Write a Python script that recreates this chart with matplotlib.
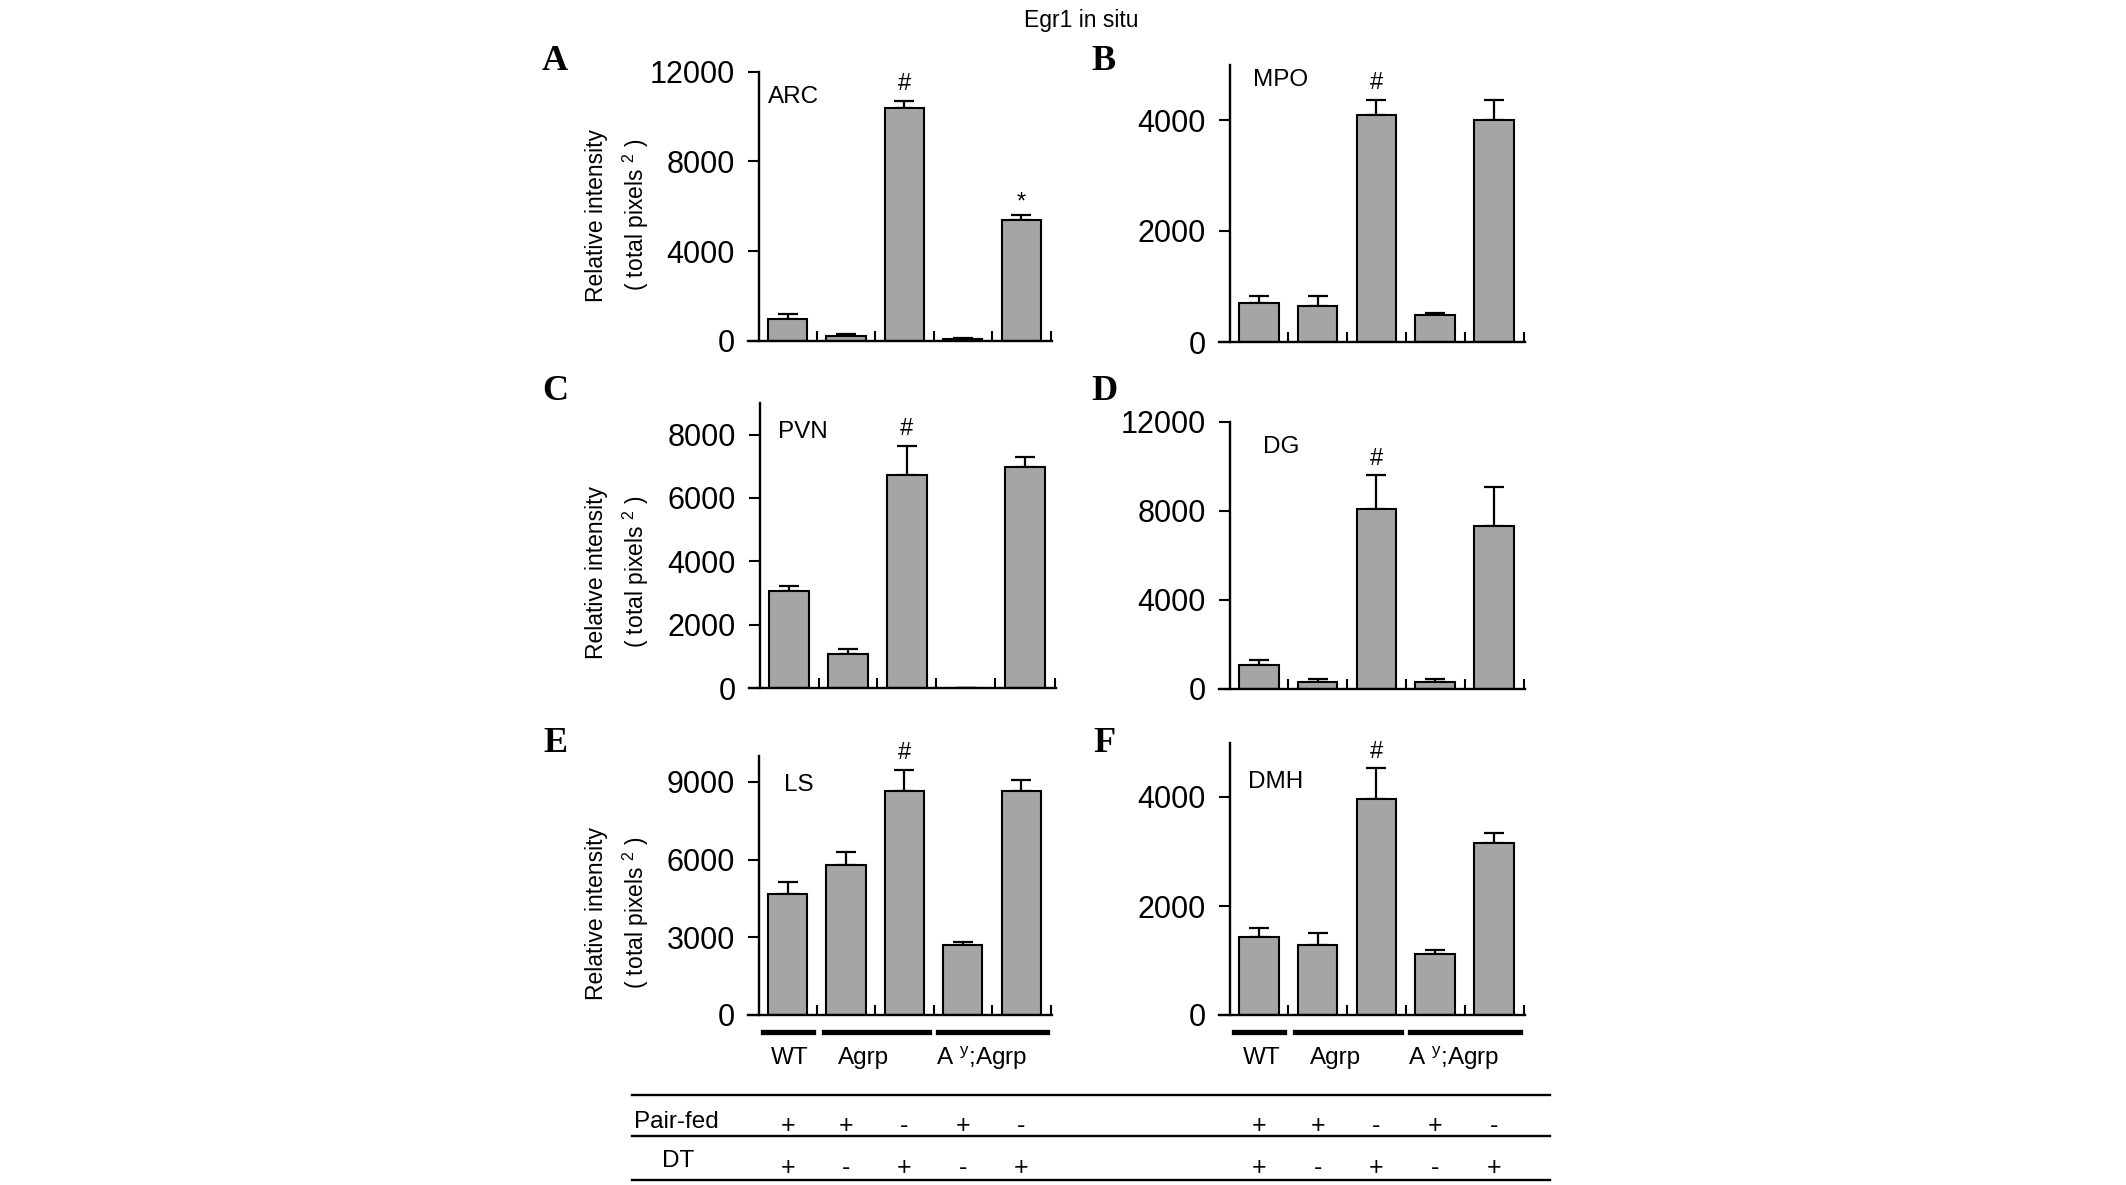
import matplotlib
matplotlib.use("Agg")
import matplotlib.pyplot as plt
import matplotlib.transforms as mtransforms
from matplotlib.lines import Line2D

plt.rcParams['font.family'] = ['Liberation Sans', 'DejaVu Sans']
plt.rcParams['mathtext.fontset'] = 'custom'
plt.rcParams['mathtext.rm'] = 'Liberation Sans'
plt.rcParams['mathtext.it'] = 'Liberation Sans'

# ---------------- data ----------------
regions = ["ARC", "MPO", "PVN", "DG", "LS", "DMH"]
panel_letters = ["A", "B", "C", "D", "E", "F"]

arc_vals = [975, 222, 10370, 100, 5390]
arc_err = [225, 100, 340, 40, 230]
mpo_vals = [695, 653, 4090, 479, 4000]
mpo_err = [131, 173, 270, 36, 360]
pvn_vals = [3074, 1074, 6737, 0, 6968]
pvn_err = [158, 158, 916, 0, 316]
dg_vals = [1078, 329, 8084, 329, 7320]
dg_err = [224, 105, 1512, 105, 1737]
ls_vals = [4678, 5800, 8634, 2706, 8634]
ls_err = [464, 476, 838, 103, 451]
dmh_vals = [1423, 1282, 3957, 1111, 3157]
dmh_err = [171, 226, 574, 86, 177]

values = [arc_vals, mpo_vals, pvn_vals, dg_vals, ls_vals, dmh_vals]
errors = [arc_err, mpo_err, pvn_err, dg_err, ls_err, dmh_err]
ymax = [12000, 5000, 9000, 12000, 10000, 5000]
yticks = [[0, 4000, 8000, 12000], [0, 2000, 4000], [0, 2000, 4000, 6000, 8000],
          [0, 4000, 8000, 12000], [0, 3000, 6000, 9000], [0, 2000, 4000]]
marks = [{2: "#", 4: "*"}, {2: "#"}, {2: "#"}, {2: "#"}, {2: "#"}, {2: "#"}]

groups = ["WT", "Agrp", r"A $^{y}$;Agrp"]
pair_fed = ["+", "+", "-", "+", "-"]
dt = ["+", "-", "+", "-", "+"]

# ---------------- layout ----------------
W, H = 2126, 1185
fig = plt.figure(figsize=(W / 100, H / 100), dpi=100)

# (left, right, bottom, top) in pixels
boxes = [(748, 1052, 341, 71.7), (1219, 1525, 342, 64.5),
         (749, 1056, 688, 403), (1219, 1525, 689, 421.7),
         (748, 1052, 1015, 756), (1219, 1525, 1015, 742.5)]
label_pos = [(0.066, 0.907), (0.11, 0.944), (0.094, 0.898),
             (0.144, 0.906), (0.118, 0.888), (0.095, 0.855)]
letter_pos = [(555, 61), (1104, 61), (555, 391), (1104, 391), (555, 743), (1104, 743)]

x = list(range(5))
axes = []
for i in range(6):
    l, r, b, t = boxes[i]
    ax = fig.add_axes([l / W, 1 - b / H, (r - l) / W, (b - t) / H])
    axes.append(ax)
    ax.bar(x, values[i], width=0.67, color="#a5a5a5", edgecolor="black",
           linewidth=1.5, zorder=2)
    errs_lo = [0] * 5
    ax.errorbar(x, values[i], yerr=[errs_lo, errors[i]], fmt="none",
                ecolor="black", elinewidth=1.6, capsize=7, capthick=1.6, zorder=1)
    ax.set_xlim(-0.68, 4.53)
    ax.set_ylim(0, ymax[i])
    ax.spines['top'].set_visible(False)
    ax.spines['right'].set_visible(False)
    ax.spines['left'].set_position(('data', -0.5))
    ax.spines['left'].set_linewidth(1.7)
    ax.spines['bottom'].set_linewidth(1.7)
    ax.set_yticks(yticks[i])
    ax.set_yticklabels([str(v) for v in yticks[i]], fontsize=22)
    ax.tick_params(axis='y', direction='out', length=8, width=1.5, pad=9)
    ax.set_xticks([0.5, 1.5, 2.5, 3.5, 4.52])
    ax.set_xticklabels([])
    ax.tick_params(axis='x', direction='in', length=7, width=1.5)
    ax.text(label_pos[i][0], label_pos[i][1], regions[i], transform=ax.transAxes,
            fontsize=17.5, ha='left', va='center')
    for k, m in marks[i].items():
        top = values[i][k] + errors[i][k]
        ax.annotate(m, (k, top), xytext=(0, 4 if m == "#" else 1),
                    textcoords='offset points', ha='center', va='bottom',
                    fontsize=17)
    lx, ly = letter_pos[i]
    fig.text(lx / W, 1 - ly / H, panel_letters[i], fontsize=26, fontweight='bold',
             family=['Liberation Serif', 'DejaVu Serif'], ha='center', va='center')

# y labels (left column)
for i, cy in zip([0, 2, 4], [215, 572, 913]):
    fig.text(597 / W, 1 - cy / H, "Relative intensity", rotation=90,
             fontsize=16.5, ha='center', va='center')
    fig.text(636 / W, 1 - cy / H, r"( total pixels $^{2}$ )", rotation=90,
             fontsize=16.5, ha='center', va='center')

fig.text(1081 / W, 1 - 21 / H, "Egr1 in situ", fontsize=16.5, ha='center', va='center')

# group lines and labels under bottom panels
spans = [(-0.42, 0.43), (0.62, 2.42), (2.58, 4.45)]
label_x = [0.04, 1.3, 3.32]
for ax in (axes[4], axes[5]):
    tr = mtransforms.blended_transform_factory(ax.transData, fig.transFigure)
    for (a, b), lx, g in zip(spans, label_x, groups):
        fig.add_artist(Line2D([a, b], [1 - 1032 / H] * 2, transform=tr,
                              color='black', linewidth=3.8))
        fig.text(lx, 1 - 1058 / H, g, transform=tr, fontsize=17.5,
                 ha='center', va='center')
    for k in range(5):
        fig.text(k, 1 - 1126 / H, pair_fed[k], transform=tr, fontsize=18,
                 ha='center', va='center')
        fig.text(k, 1 - 1168 / H, dt[k], transform=tr, fontsize=18,
                 ha='center', va='center')

# table lines
for yy in (1095, 1136, 1180):
    fig.add_artist(Line2D([632 / W, 1550 / W], [1 - yy / H] * 2,
                          transform=fig.transFigure, color='black', linewidth=1.7))
fig.text(634 / W, 1 - 1122 / H, "Pair-fed", fontsize=17.5, ha='left', va='center')
fig.text(662 / W, 1 - 1161 / H, "DT", fontsize=17.5, ha='left', va='center')

fig.savefig("out.png", dpi=100)
